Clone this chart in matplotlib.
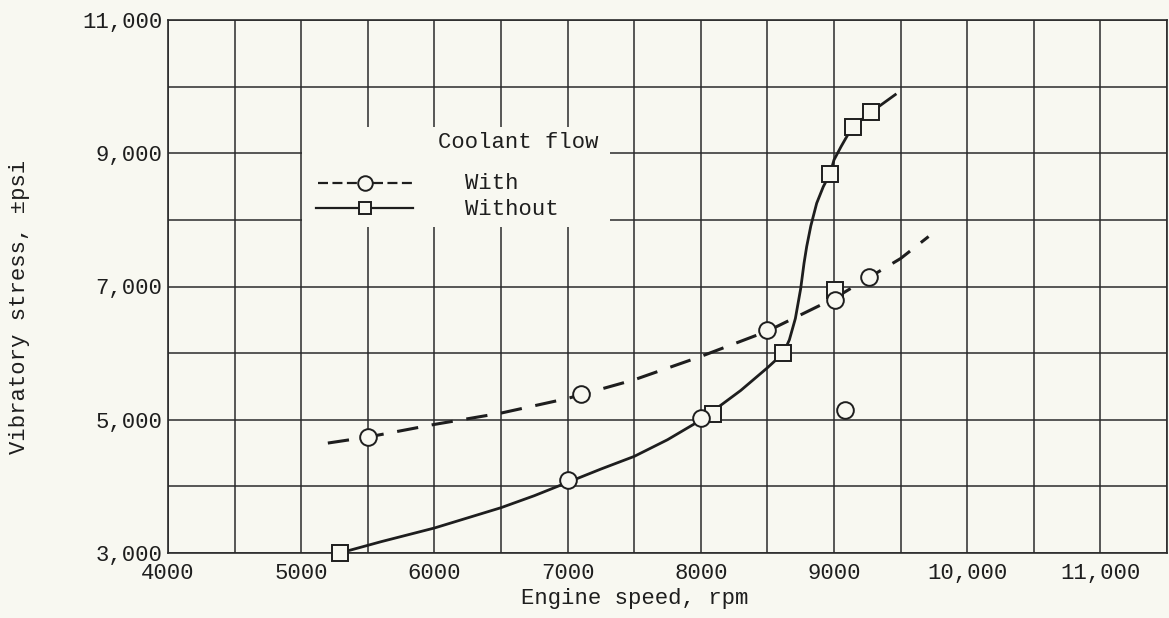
import matplotlib
matplotlib.use("Agg")
import matplotlib.pyplot as plt
from matplotlib.patches import Rectangle

# ---------------- data ----------------
with_rpm = [5500, 7000, 7100, 8000, 8500, 9010, 9080, 9260]
with_stress = [4740, 4090, 5390, 5020, 6350, 6800, 5150, 7150]

without_rpm = [5290, 8090, 8620, 8970, 9010, 9140, 9280]
without_stress = [3000, 5080, 6000, 8690, 6940, 9395, 9620]

# faired curves (hand-drawn in the original), read point by point
with_curve_rpm = [5200, 5500, 6000, 6500, 7000, 7500, 8000, 8500, 9000, 9250, 9500, 9710]
with_curve_stress = [4650, 4740, 4930, 5100, 5320, 5600, 5950, 6330, 6820, 7120, 7420, 7750]

without_curve_rpm = [5290, 5600, 6000, 6500, 6750, 7000, 7250, 7500, 7750, 8000, 8300,
                     8500, 8620, 8665, 8710, 8750, 8775, 8795, 8826, 8870, 8920, 8970,
                     9000, 9053, 9113, 9140, 9280, 9460]
without_curve_stress = [3000, 3170, 3375, 3680, 3860, 4060, 4260, 4450, 4700, 4995, 5440,
                        5780, 6000, 6200, 6520, 6970, 7350, 7600, 7910, 8250, 8500, 8690,
                        8900, 9100, 9310, 9395, 9620, 9880]

x_tick_values = [4000, 5000, 6000, 7000, 8000, 9000, 10000, 11000]
x_tick_labels = ["4000", "5000", "6000", "7000", "8000", "9000", "10,000", "11,000"]
y_tick_values = [3000, 5000, 7000, 9000, 11000]
y_tick_labels = ["3,000", "5,000", "7,000", "9,000", "11,000"]

x_label = "Engine speed, rpm"
y_label = "Vibratory stress, \u00b1psi"
legend_title = "Coolant flow"
legend_labels = ["With", "Without"]

# ---------------- style ----------------
BG = "#f8f8f1"
INK = "#1e1e1e"
GRID = "#2b2b2b"
FONT = ["Liberation Mono", "DejaVu Sans Mono"]
FS = 16

plt.rcParams["font.family"] = FONT

fig = plt.figure(figsize=(11.69, 6.18), dpi=100, facecolor=BG)
L, R, T, B = 168 / 1169, 1167 / 1169, 1 - 20 / 618, 1 - 553 / 618
ax = fig.add_axes([L, B, R - L, T - B], facecolor=BG)

ax.set_xlim(4000, 11500)
ax.set_ylim(3000, 11000)

# grid every 500 rpm / 1000 psi
ax.set_xticks(range(4000, 11501, 500), minor=True)
ax.set_yticks(range(3000, 11001, 1000), minor=True)
ax.set_xticks(x_tick_values)
ax.set_xticklabels(x_tick_labels)
ax.set_yticks(y_tick_values)
ax.set_yticklabels(y_tick_labels)
ax.grid(which="minor", color=GRID, lw=1.1)
ax.grid(which="major", color=GRID, lw=1.1)
ax.set_axisbelow(True)
ax.tick_params(which="both", length=0)
ax.tick_params(axis="x", pad=7, labelsize=FS, colors=INK)
ax.tick_params(axis="y", pad=4, labelsize=FS, colors=INK)
for s in ax.spines.values():
    s.set_color(GRID)
    s.set_linewidth(1.2)

ax.set_xlabel(x_label, fontsize=FS, color=INK)
ax.set_ylabel(y_label, fontsize=FS, color=INK)
ax.xaxis.set_label_coords((635 - 168) / 999, -(588 - 553) / 533)
ax.yaxis.set_label_coords(-(138) / 999, (553 - 307) / 533)

# curves
ax.plot(with_curve_rpm, with_curve_stress, color=INK, lw=2.2,
        dashes=(7, 4.5), zorder=3)
ax.plot(without_curve_rpm, without_curve_stress, color=INK, lw=2.0, zorder=3)

# data points
ax.plot(without_rpm, without_stress, ls="none", marker="s", ms=11,
        mfc=BG, mec=INK, mew=1.4, zorder=4, clip_on=False)
ax.plot(with_rpm, with_stress, ls="none", marker="o", ms=12,
        mfc=BG, mec=INK, mew=1.4, zorder=5, clip_on=False)

# legend area (patch that interrupts the grid)
tr = ax.transAxes
ax.add_patch(Rectangle((0.134, 0.612), 0.308, 0.187, transform=tr,
                       facecolor=BG, edgecolor="none", zorder=1.5))
ax.text(0.270, 0.771, legend_title, transform=tr, fontsize=FS, color=INK,
        ha="left", va="center", zorder=6)
ax.text(0.297, 0.694, legend_labels[0], transform=tr, fontsize=FS, color=INK,
        ha="left", va="center", zorder=6)
ax.text(0.297, 0.644, legend_labels[1], transform=tr, fontsize=FS, color=INK,
        ha="left", va="center", zorder=6)
# legend glyphs
ax.plot([0.150, 0.190], [0.694, 0.694], transform=tr, color=INK, lw=1.6,
        dashes=(4.5, 2.0), zorder=6)
ax.plot([0.205, 0.245], [0.694, 0.694], transform=tr, color=INK, lw=1.6,
        dashes=(4.5, 2.0), zorder=6)
ax.plot([0.197], [0.694], transform=tr, marker="o", ms=10.5, mfc=BG, mec=INK,
        mew=1.4, zorder=7)
ax.plot([0.148, 0.245], [0.647, 0.647], transform=tr, color=INK, lw=1.6, zorder=6)
ax.plot([0.197], [0.647], transform=tr, marker="s", ms=9, mfc=BG, mec=INK,
        mew=1.4, zorder=7)

fig.savefig("out.png", dpi=100, facecolor=BG)
